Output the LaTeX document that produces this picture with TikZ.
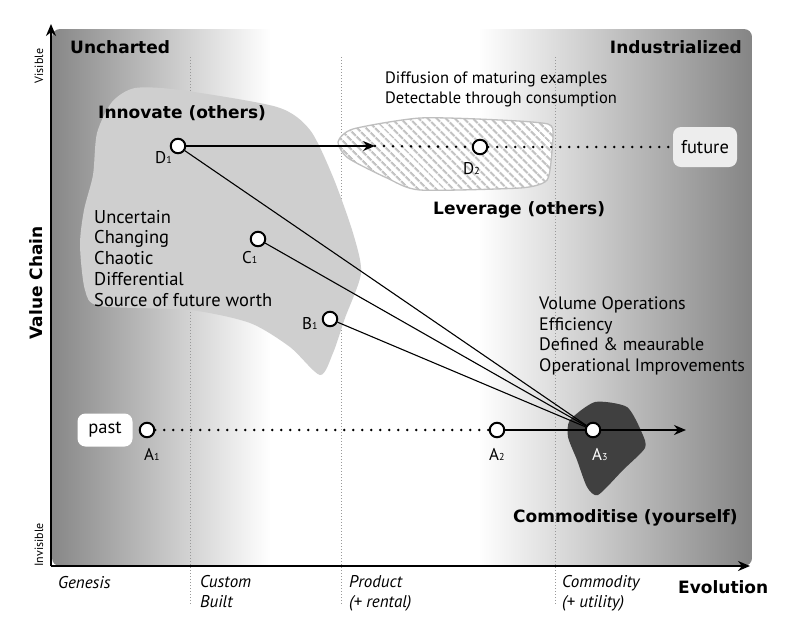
\documentclass[tikz,border=0pt]{standalone}
\usepackage{fontspec}
\setmainfont{PT Sans}
\newfontfamily\headfont{DejaVu Sans}
\usetikzlibrary{arrows.meta,patterns.meta}
\newcommand\ptsub[1]{{\fontsize{10}{10}\selectfont #1}}
\begin{document}
\begin{tikzpicture}[x=1pt,y=-1pt,
  pt/.style={circle,draw=black,fill=white,line width=2pt,minimum size=14.5pt,inner sep=0pt},
  lbl/.style={font=\fontsize{17}{17}\selectfont,anchor=base west,inner sep=0pt},
  body/.style={font=\fontsize{18.5}{20.7}\selectfont,align=left,anchor=base west,inner sep=0pt},
  head/.style={font=\headfont\bfseries\fontsize{17}{17}\selectfont,anchor=base west,inner sep=0pt},
  axl/.style={font=\fontsize{17}{20}\selectfont\itshape,align=left,anchor=base west,inner sep=0pt},
  tiny/.style={font=\fontsize{12}{12}\selectfont,rotate=90,anchor=base,inner sep=0pt},
  tagbox/.style={rounded corners=8pt,font=\fontsize{18.5}{18.5}\selectfont,inner sep=0pt},
  dots/.style={line width=2.8pt,line cap=round,dash pattern=on 0pt off 9pt},
  guide/.style={black!40,line width=0.8pt,dash pattern=on 0.8pt off 2.2pt},
  tarrow/.style={line width=2.4pt,-{Stealth[length=12pt,width=10pt]}},
  ray/.style={line width=1.1pt},
  axis/.style={line width=2.6pt,-{Stealth[length=12pt,width=10pt]}}]
\useasboundingbox (0,0) rectangle (786,633);
% background
\begin{scope}
  \clip[rounded corners=8pt] (52,29) rectangle (752,566);
  \fill[white] (52,29) rectangle (752,566);
  \shade[left color=black!47,right color=white] (52,29) rectangle (270,566);
  \shade[left color=white,right color=black!48] (478,29) rectangle (752,566);
\end{scope}
% guides
\draw[guide] (190,57) -- (190,605);
\draw[guide] (341,57) -- (341,605);
\draw[guide] (555,57) -- (555,605);
% blobs
\fill[black!19] plot[smooth cycle,tension=0.45] coordinates {(97,133) (112,102) (135,88) (180,90) (277,107) (310,130) (333,177) (353,233) (361,273) (345,318) (333,353) (320,375) (290,347) (250,323) (190,310) (100,306) (85,290) (80,245) (84,210) (93,175)};
\path[fill=white] plot[smooth cycle,tension=0.4] coordinates {(338,142) (353,129) (420,118) (500,120) (548,124) (553,135) (550,170) (545,182) (520,188) (420,190) (387,178) (348,158)};
\path[pattern={Lines[angle=-45,distance=6.5pt,line width=2.6pt]},pattern color=black!24] plot[smooth cycle,tension=0.4] coordinates {(338,142) (353,129) (420,118) (500,120) (548,124) (553,135) (550,170) (545,182) (520,188) (420,190) (387,178) (348,158)};
\draw[black!25,line width=1.3pt] plot[smooth cycle,tension=0.4] coordinates {(338,142) (353,129) (420,118) (500,120) (548,124) (553,135) (550,170) (545,182) (520,188) (420,190) (387,178) (348,158)};
\fill[black!75] plot[smooth cycle,tension=0.4] coordinates {(570,420) (595,402) (627,407) (642,433) (645,448) (623,470) (598,495) (587,487) (577,460) (568,437)};
% axes
\coordinate (O) at (51,566);
\coordinate (Ytip) at (51,24);
\coordinate (Xtip) at (750,566);
\draw[axis] (O) -- (Ytip);
\draw[axis] (O) -- (Xtip);
% points
\node[pt] (D1) at (178,146) {};
\node[pt] (C1) at (258,239) {};
\node[pt] (B1) at (330,319) {};
\node[pt] (A1) at (147,430) {};
\node[pt] (A2) at (497,430) {};
\node[pt] (A3) at (593,430) {};
\node[pt] (D2) at (480,147) {};
\coordinate (Dtip) at (375,146);
\coordinate (Atip) at (686,430);
\node[tagbox,fill=black!7,minimum width=64pt,minimum height=40pt] (future) at (705,147) {future};
\node[tagbox,fill=white,minimum width=55pt,minimum height=33pt] (past) at (105,430) {past};
% connectors
\draw[ray] (D1) -- (A3);
\draw[ray] (C1) -- (A3);
\draw[ray] (B1) -- (A3);
\draw[tarrow] (D1) -- (Dtip);
\draw[dots] (Dtip) -- (D2);
\draw[dots] (D2) -- (future);
\draw[dots] (A1) -- (A2);
\draw[line width=2.4pt] (A2) -- (A3);
\draw[tarrow] (A3) -- (Atip);
% point labels
\node[lbl] (lD1) at (155,163) {D\ptsub{1}};
\node[lbl] (lC1) at (242,263) {C\ptsub{1}};
\node[lbl] (lB1) at (302,329) {B\ptsub{1}};
\node[lbl] (lA1) at (144,460) {A\ptsub{1}};
\node[lbl] (lA2) at (489,460) {A\ptsub{2}};
\node[lbl,text=white] (lA3) at (592,460) {A\ptsub{3}};
\node[lbl] (lD2) at (463,174) {D\ptsub{2}};
% headings
\node[head] (unch) at (70,53) {Uncharted};
\node[head,anchor=base east] (indu) at (742,53) {Industrialized};
\node[head] (innov) at (98,118) {Innovate (others)};
\node[head] (lev) at (433,214) {Leverage (others)};
\node[head] (comm) at (513,522) {Commoditise (yourself)};
\node[head] (evo) at (678,593) {Evolution};
\node[head,rotate=90,anchor=base] (vc) at (42,283) {Value Chain};
\node[tiny] (vis) at (43,66) {Visible};
\node[tiny] (invis) at (43,545) {Invisible};
% body texts (base anchor = last line)
\node[body] (traits) at (94,306) {Uncertain\\Changing\\Chaotic\\Differential\\Source of future worth};
\node[body,font=\fontsize{16.5}{20}\selectfont] (diff) at (385,103) {Diffusion of maturing examples\\Detectable through consumption};
\node[body,font=\fontsize{18}{20.5}\selectfont] (vol) at (539,371) {Volume Operations\\Efficiency\\Defined \& meaurable\\Operational Improvements};
% axis stage labels
\node[axl] (gen) at (58,588) {Genesis};
\node[axl] (cust) at (200,607) {Custom\\Built};
\node[axl] (prod) at (349,607) {Product\\(+ rental)};
\node[axl] (cmdy) at (562,607) {Commodity\\(+ utility)};
\end{tikzpicture}
\end{document}
